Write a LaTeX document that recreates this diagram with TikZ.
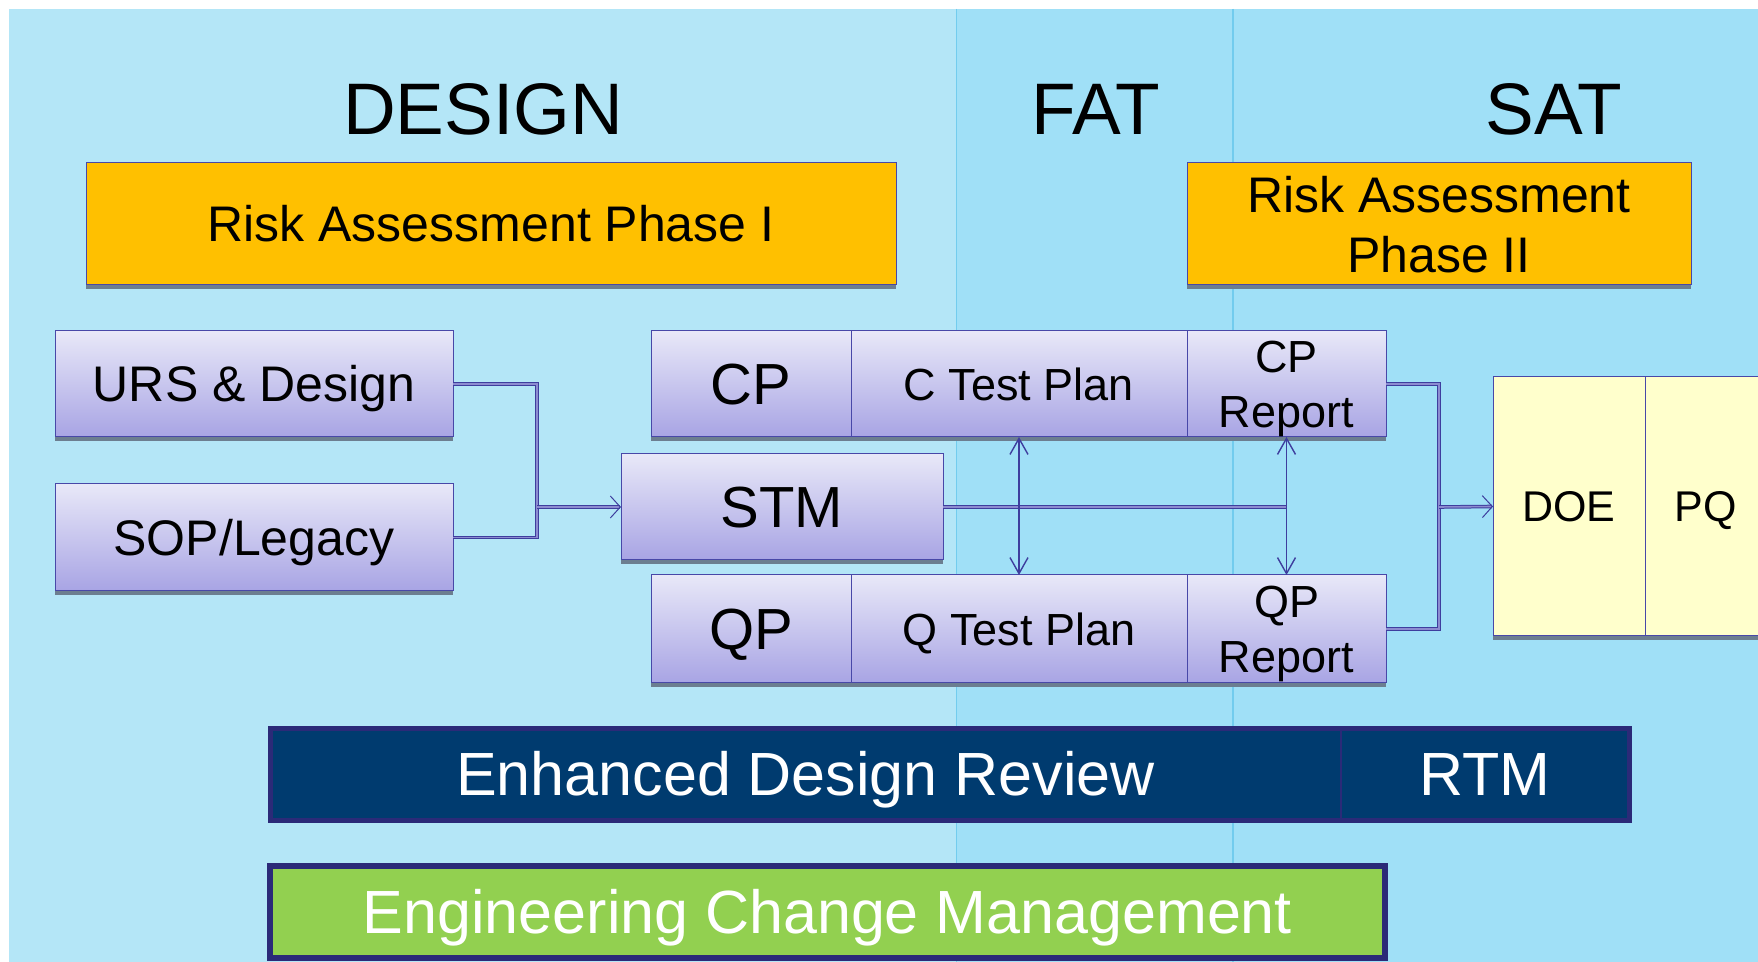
\documentclass[tikz,border=0pt]{standalone}
\usepackage{fontspec}
\setmainfont{Liberation Sans}
\usetikzlibrary{arrows.meta}
\definecolor{bgA}{HTML}{B4E6F7}
\definecolor{bgB}{HTML}{A0E0F7}
\definecolor{sepc}{HTML}{72CCEE}
\definecolor{orangec}{HTML}{FFC000}
\definecolor{pbTop}{HTML}{E8E8F8}
\definecolor{pbBot}{HTML}{A8A4E4}
\definecolor{pbB}{HTML}{4848A8}
\definecolor{lineC}{HTML}{3E3E9E}
\definecolor{lineL}{HTML}{8C8CD0}
\definecolor{navyF}{HTML}{003B6F}
\definecolor{navyB}{HTML}{2B2A78}
\definecolor{greenF}{HTML}{92D050}
\definecolor{yellowF}{HTML}{FFFFCC}
\definecolor{shadowc}{HTML}{6C7E90}
\begin{document}
\begin{tikzpicture}[x=0.5pt,y=-0.5pt,
  sz/.style 2 args={minimum width=#1, minimum height=#2},
  boxbase/.style={inner sep=0pt, outer sep=0pt, draw=pbB, line width=0.5pt,
    preaction={fill=shadowc, transform canvas={yshift=-2pt}}},
  pbox/.style={boxbase, top color=pbTop, bottom color=pbBot},
  obox/.style={boxbase, fill=orangec},
  ybox/.style={boxbase, fill=yellowF},
  nbox/.style={inner sep=0pt, outer sep=0pt, fill=navyF, text=white},
  gbox/.style={inner sep=0pt, outer sep=0pt, fill=greenF, draw=navyB, line width=3pt, text=white},
  ftitle/.style={font=\fontsize{36.5}{44}\selectfont, text height=26.1pt, text depth=0pt, inner sep=0pt},
  fra/.style={font=\fontsize{25}{30}\selectfont, text height=17.9pt, text depth=0pt},
  fratwo/.style={font=\fontsize{25}{30}\selectfont, text depth=0pt, align=center},
  fmid/.style={font=\fontsize{25}{30}\selectfont, text height=17.9pt, text depth=0pt},
  fbig/.style={font=\fontsize{29}{35}\selectfont, text height=20.8pt, text depth=0pt},
  fsm/.style={font=\fontsize{22.5}{27.5}\selectfont, text height=16.1pt, text depth=0pt},
  fsmtwo/.style={font=\fontsize{22.5}{27.5}\selectfont, text depth=0pt, align=center},
  fdoe/.style={font=\fontsize{21.5}{26}\selectfont, text height=15.4pt, text depth=0pt},
  fbar/.style={font=\fontsize{30.5}{36}\selectfont, text height=21.8pt, text depth=0pt},
  dconn/.style={draw=lineC, line width=0.5pt, double=lineL, double distance=0.8pt},
  darrow/.style={dconn, -{Straight Barb[length=5pt,width=11pt]}},
  varrow/.style={draw=lineC, line width=0.7pt, {Straight Barb[length=8pt,width=9pt]}-{Straight Barb[length=8pt,width=9pt]}}
]
\useasboundingbox (0,0) rectangle (1758,962);
\clip (0,0) rectangle (1758,962);
\fill[white] (0,0) rectangle (1758,962);
\fill[bgA] (9,9) rectangle (956,962);
\fill[bgB] (956,9) rectangle (1758,962);
\draw[sepc, line width=0.3pt] (956,9) -- (956,962);
\draw[sepc, line width=0.6pt] (1233,9) -- (1233,962);

% titles
\node[ftitle] (tdesign) at (483,108) {DESIGN};
\node[ftitle] (tfat) at (1096,108) {FAT};
\node[ftitle] (tsat) at (1554,108) {SAT};

% risk assessment
\node[obox, fra, sz={405pt}{61pt}] (ra1) at (491,224) {Risk Assessment Phase I};
\node[obox, fratwo, sz={252pt}{61pt}] (ra2) at (1439,224) {Risk Assessment\\Phase II};

% left inputs
\node[pbox, fmid, sz={199pt}{53pt}] (urs) at (254,384) {URS \& Design};
\node[pbox, fmid, sz={199pt}{53.5pt}] (sop) at (254,537.5) {SOP/Legacy};

% CP row
\node[pbox, fbig, sz={100pt}{53pt}] (cp) at (751,384) {CP};
\node[pbox, fsm, sz={168pt}{53pt}] (ctp) at (1019,384) {C Test Plan};
\node[pbox, fsmtwo, sz={99.5pt}{53pt}] (cpr) at (1286.5,384) {CP\\Report};

% STM
\node[pbox, fbig, sz={161pt}{53pt}] (stm) at (782,507) {STM};

% QP row
\node[pbox, fbig, sz={100pt}{54pt}] (qp) at (751,629) {QP};
\node[pbox, fsm, sz={168pt}{54pt}] (qtp) at (1019,629) {Q Test Plan};
\node[pbox, fsmtwo, sz={99.5pt}{54pt}] (qpr) at (1286.5,629) {QP\\Report};

% DOE / PQ
\node[ybox, fdoe, sz={76pt}{129.5pt}] (doe) at (1569,506.5) {DOE};
\node[ybox, fdoe, sz={61pt}{129.5pt}] (pq) at (1706,506.5) {PQ};

% bars
\node[nbox, fbar, sz={535.5pt}{46pt}] (edr) at (805.5,774) {Enhanced Design Review};
\node[nbox, fbar, sz={144pt}{46pt}] (rtm) at (1485,774) {RTM};
\draw[navyB, line width=2.5pt] (edr.north west) rectangle (rtm.south east);
\draw[navyB, line width=1pt] (edr.north east) -- (edr.south east);

\node[gbox, fbar, sz={557.5pt}{46pt}] (ecm) at (827.5,912) {Engineering Change Management};

% connectors
\coordinate (j1) at (537,507);
\coordinate (j2) at (1439,507);
\coordinate (v2) at (1286.5,507);
\draw[dconn] (urs.east) -| (j1) |- (sop.east);
\draw[darrow] (j1) -- (stm.west);
\draw[dconn] (cpr.east) -| (j2) |- (qpr.east);
\draw[darrow] (j2) -- (doe.west);
\draw[dconn, double distance=1.2pt] (stm.east) -- (v2);
\draw[varrow] (ctp.south) -- (qtp.north);
\draw[varrow] (cpr.south) -- (qpr.north);
\end{tikzpicture}
\end{document}
